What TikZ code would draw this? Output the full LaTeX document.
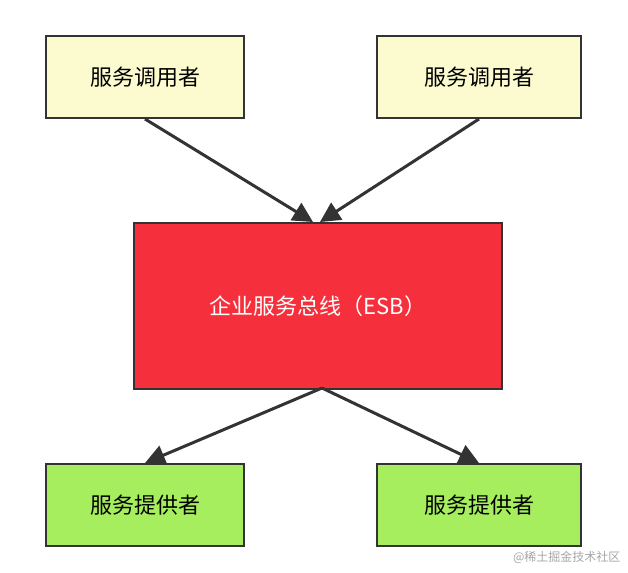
\documentclass[tikz,border=0pt]{standalone}
\usepackage{fontspec}
\setmainfont{Noto Sans CJK SC}
\usetikzlibrary{arrows.meta}
\definecolor{cyel}{HTML}{FBFBCF}
\definecolor{cred}{HTML}{F52F3C}
\definecolor{cgrn}{HTML}{A6EE5E}
\definecolor{cedge}{HTML}{333333}
\begin{document}
\begin{tikzpicture}[x=1pt,y=-1pt,
  box/.style={draw=cedge,line width=2pt,anchor=north west,inner sep=0pt,font=\fontsize{22}{26}\selectfont},
  conn/.style={draw=cedge,line width=3pt,-{Triangle[length=20pt,width=20pt]}}]
\useasboundingbox (0,0) rectangle (628,572);
\node[box,fill=cyel,minimum width=198pt,minimum height=82pt] (u1) at (45,35) {服务调用者};
\node[box,fill=cyel,minimum width=204pt,minimum height=82pt] (u2) at (376,35) {服务调用者};
\node[box,fill=cred,minimum width=368pt,minimum height=166pt,text=white] (esb) at (133,222) {企业服务总线（ESB）};
\node[box,fill=cgrn,minimum width=198pt,minimum height=82pt] (p1) at (45,463) {服务提供者};
\node[box,fill=cgrn,minimum width=204pt,minimum height=82pt] (p2) at (376,463) {服务提供者};
\coordinate (t1) at (313,222);
\coordinate (t2) at (320,222);
\coordinate (b) at (322,388);
\draw[conn] (u1.south) -- (t1);
\draw[conn] (u2.south) -- (t2);
\draw[conn] (b) -- (p1.north);
\draw[conn] (b) -- (p2.north);
\node[text=gray!70,font=\fontsize{12}{14}\selectfont,anchor=east] (wm) at (624,557) {@稀土掘金技术社区};
\end{tikzpicture}
\end{document}
